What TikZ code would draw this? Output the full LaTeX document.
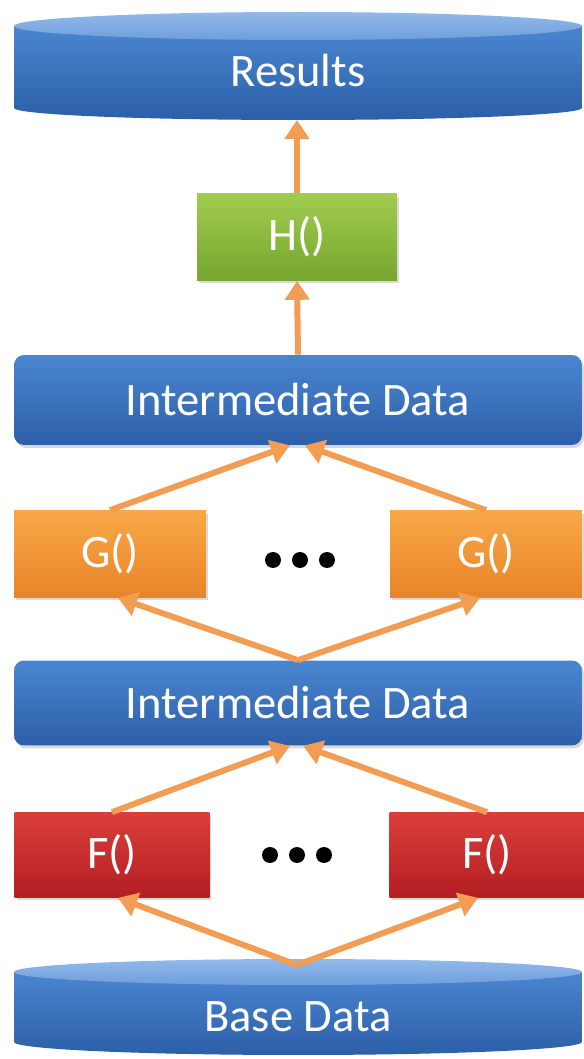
\documentclass[tikz,border=0pt]{standalone}
\usepackage{fontspec}
\setmainfont{Carlito}
\usetikzlibrary{arrows.meta,shadows}

\definecolor{blueT}{RGB}{74,134,208}
\definecolor{blueB}{RGB}{44,95,168}
\definecolor{lidT}{RGB}{146,185,234}
\definecolor{lidB}{RGB}{110,158,220}
\definecolor{greenT}{RGB}{160,204,80}
\definecolor{greenB}{RGB}{118,166,46}
\definecolor{orT}{RGB}{248,168,72}
\definecolor{orB}{RGB}{232,132,40}
\definecolor{redT}{RGB}{218,62,60}
\definecolor{redB}{RGB}{180,30,34}
\definecolor{flowc}{RGB}{242,156,84}

\tikzset{
  lbl/.style={text=white, font=\fontsize{26.5}{30}\selectfont},
  blk/.style={lbl, minimum height=1.74cm, inner sep=0pt,
    drop shadow={opacity=0.3, shadow xshift=0.04cm, shadow yshift=-0.06cm}},
  datablk/.style={blk, rounded corners=0.2cm, minimum width=11.36cm,
    top color=blueT, bottom color=blueB},
  hblk/.style={blk, minimum width=4cm, top color=greenT, bottom color=greenB},
  gblk/.style={blk, minimum width=3.84cm, top color=orT, bottom color=orB},
  fblk/.style={blk, minimum width=3.9cm, top color=redT, bottom color=redB},
  flow/.style={draw=flowc, line width=3.4pt,
    -{Triangle[length=0.38cm,width=0.48cm]}},
  dot/.style={circle, fill=black, minimum size=0.32cm, inner sep=0pt}
}

\begin{document}
\begin{tikzpicture}[x=0.02cm, y=0.02cm]
  \useasboundingbox (0,0) rectangle (583,1059);
  % results store
  \shade[top color=blueT, bottom color=blueB]
    (14,1033) -- (14,951) arc[start angle=180, end angle=360, x radius=5.68cm, y radius=0.24cm]
    -- (582,1033) -- cycle;
  \shade[top color=lidT, bottom color=lidB] (298,1033) ellipse [x radius=5.68cm, y radius=0.28cm];
  \node[lbl] (res) at (298,988) {Results};
  \coordinate (resb) at (297,939);
  % base store
  \shade[top color=blueT, bottom color=blueB]
    (14,87) -- (14,17) arc[start angle=180, end angle=360, x radius=5.68cm, y radius=0.26cm]
    -- (582,87) -- cycle;
  \shade[top color=lidT, bottom color=lidB] (298,87) ellipse [x radius=5.68cm, y radius=0.26cm];
  \node[lbl] (base) at (298,42) {Base Data};
  \coordinate (baset) at (297,94);
  % boxes
  \node[hblk] (h) at (297,822) {H()};
  \node[datablk, minimum height=1.8cm] (mid1) at (298,659) {Intermediate Data};
  \node[gblk] (g1) at (110,505) {G()};
  \node[gblk] (g2) at (486,505) {G()};
  \node[datablk, minimum height=1.7cm] (mid2) at (298,356) {Intermediate Data};
  \node[fblk, minimum height=1.7cm] (f1) at (112,204) {F()};
  \node[fblk, minimum height=1.7cm] (f2) at (487,204) {F()};
  \foreach \i/\x in {1/273,2/300,3/327} {
    \node[dot] (gd\i) at (\x,499) {};
    \node[dot] (fd\i) at (\x-3,204) {};
  }
  % arrows
  \draw[flow] (h.north) -- (resb);
  \draw[flow] (mid1.north) -- (h.south);
  \draw[flow] (g1.north) -- ([xshift=-0.16cm]mid1.south);
  \draw[flow] (g2.north) -- ([xshift=0.14cm]mid1.south);
  \draw[flow] (mid2.north) -- ([xshift=0.16cm]g1.south);
  \draw[flow] (mid2.north) -- ([xshift=-0.12cm]g2.south);
  \draw[flow] (f1.north) -- ([xshift=-0.16cm]mid2.south);
  \draw[flow] (f2.north) -- ([xshift=0.1cm]mid2.south);
  \draw[flow] (baset) -- ([xshift=0.12cm]f1.south);
  \draw[flow] (baset) -- ([xshift=-0.18cm]f2.south);
\end{tikzpicture}
\end{document}
